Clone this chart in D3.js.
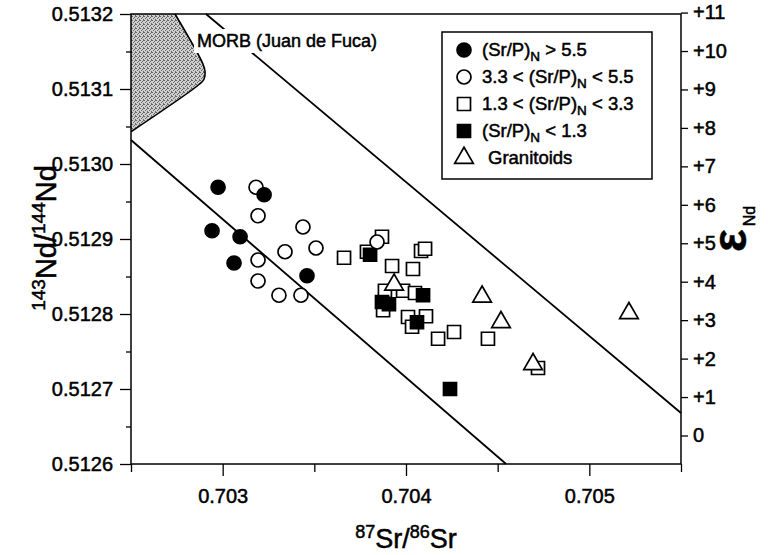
<!DOCTYPE html>
<html><head><meta charset="utf-8">
<script src="https://cdn.jsdelivr.net/npm/d3@7"></script>
<style>
body{margin:0;background:#fff}
svg{display:block}
text{font-family:"Liberation Sans",Arial,Helvetica,sans-serif;fill:#000;stroke:#000;stroke-width:0.5px}
</style>
</head><body>
<svg id="c" width="772" height="555"></svg>
<script>
// ---------- data ----------
const xDomain = [0.7025, 0.7055];
const yDomain = [0.5126, 0.5132];
const xTicks = [0.703, 0.704, 0.705];
const xMinorTicks = [0.7025, 0.7035, 0.7045, 0.7055];
const yTicks = [0.5126, 0.5127, 0.5128, 0.5129, 0.5130, 0.5131, 0.5132];
const yMinorTicks = [0.51265, 0.51275, 0.51285, 0.51295, 0.51305, 0.51315];
const epsTicks = [0, 1, 2, 3, 4, 5, 6, 7, 8, 9, 10, 11];
const CHUR = 0.512638;

// (Sr/P)N > 5.5
const filledCircles = [
  [0.702975, 0.512969], [0.703226, 0.512959], [0.702942, 0.512911],
  [0.703095, 0.512903], [0.703062, 0.512868], [0.703460, 0.512851]
];
// 3.3 < (Sr/P)N < 5.5
const openCircles = [
  [0.703182, 0.512969], [0.703193, 0.512931], [0.703438, 0.512916],
  [0.703340, 0.512883], [0.703509, 0.512888], [0.703193, 0.512872],
  [0.703193, 0.512844], [0.703307, 0.512825], [0.703427, 0.512825],
  [0.703842, 0.512896]
];
// 1.3 < (Sr/P)N < 3.3
const openSquares = [
  [0.703662, 0.512875], [0.703787, 0.512883], [0.703869, 0.512903],
  [0.704082, 0.512884], [0.704104, 0.512887], [0.703924, 0.512864],
  [0.704038, 0.512860], [0.703885, 0.512831], [0.703984, 0.512831],
  [0.704049, 0.512828], [0.703875, 0.512805], [0.704011, 0.512796],
  [0.704109, 0.512797], [0.704033, 0.512783], [0.704175, 0.512767],
  [0.704262, 0.512776], [0.704447, 0.512767], [0.704720, 0.512728]
];
// (Sr/P)N < 1.3
const filledSquares = [
  [0.703804, 0.512879], [0.703869, 0.512816], [0.703907, 0.512813],
  [0.704093, 0.512825], [0.704060, 0.512789], [0.704240, 0.512700]
];
// Granitoids
const granitoids = [
  [0.703935, 0.512839], [0.704415, 0.512823], [0.704518, 0.512789],
  [0.704693, 0.512733], [0.705216, 0.512801]
];
// mantle array bounding lines
const upperLine = [[0.702909, 0.5132], [0.7055, 0.512668]];
const lowerLine = [[0.7025, 0.513032], [0.704546, 0.5126]];
// MORB field (Juan de Fuca)
const morbField = [
  [0.7025, 0.5132], [0.70274, 0.5132], [0.702893, 0.513133], [0.702904, 0.513123],
  [0.702898, 0.513113], [0.702876, 0.513107], [0.7025, 0.513043]
];
const legendItems = [
  {sym: "fc", pre: "(Sr/P)", sub: "N", post: " > 5.5"},
  {sym: "oc", pre: "3.3 < (Sr/P)", sub: "N", post: " < 5.5"},
  {sym: "os", pre: "1.3 < (Sr/P)", sub: "N", post: " < 3.3"},
  {sym: "fs", pre: "(Sr/P)", sub: "N", post: " < 1.3"},
  {sym: "tr", pre: "Granitoids", sub: "", post: ""}
];

// ---------- layout ----------
const L = 131, R = 681, T = 14, B = 464;
const svg = d3.select("#c");
const x = d3.scaleLinear().domain(xDomain).range([L, R]);
const y = d3.scaleLinear().domain(yDomain).range([B, T]);
const toEps = r => (r / CHUR - 1) * 1e4;
const yEps = d3.scaleLinear().domain(yDomain.map(toEps)).range([B, T]);

// pattern for MORB field
const defs = svg.append("defs");
const pat = defs.append("pattern").attr("id", "stip").attr("patternUnits", "userSpaceOnUse")
  .attr("width", 4).attr("height", 4);
pat.append("rect").attr("width", 4).attr("height", 4).attr("fill", "#cfcfcf");
[[0,0],[2,1],[1,2],[3,3],[3,0]].forEach(p => pat.append("rect").attr("x", p[0]).attr("y", p[1])
  .attr("width", 1).attr("height", 1).attr("fill", "#666"));

const line = d3.line().x(d => x(d[0])).y(d => y(d[1]));

svg.append("path")
  .attr("d", line(morbField) + "Z")
  .attr("fill", "url(#stip)").attr("stroke", "none");
svg.append("path")
  .attr("d", d3.line().x(d => x(d[0])).y(d => y(d[1])).curve(d3.curveCatmullRom)(morbField.slice(1, 7)))
  .attr("fill", "none").attr("stroke", "#000").attr("stroke-width", 1.6);

// mantle array lines
[upperLine, lowerLine].forEach(l => svg.append("path")
  .attr("d", line(l))
  .attr("stroke", "#000").attr("stroke-width", 1.8).attr("fill", "none"));

// MORB label with white knock-out
svg.append("rect").attr("x", 194).attr("y", 29).attr("width", 190).attr("height", 24).attr("fill", "#fff");
svg.append("text").attr("x", 197).attr("y", 47).attr("font-size", 18).text("MORB (Juan de Fuca)");

// frame
svg.append("rect").attr("x", L).attr("y", T).attr("width", R - L).attr("height", B - T)
  .attr("fill", "none").attr("stroke", "#000").attr("stroke-width", 1.5);

// axes
function styleAxis(g) {
  g.select(".domain").remove();
  g.selectAll(".tick line").attr("stroke", "#000").attr("stroke-width", 1.3);
  g.selectAll(".tick text").attr("font-family", null).attr("font-size", 20);
}
svg.append("g").attr("transform", `translate(${L},0)`)
  .call(d3.axisLeft(y).tickValues(yTicks).tickFormat(d3.format(".4f")).tickSize(11).tickPadding(7))
  .call(styleAxis);
svg.append("g").attr("transform", `translate(${L},0)`)
  .call(d3.axisLeft(y).tickValues(yMinorTicks).tickFormat("").tickSize(5))
  .call(styleAxis);
svg.append("g").attr("transform", `translate(0,${B})`)
  .call(d3.axisBottom(x).tickValues(xTicks).tickFormat(d3.format(".3f")).tickSize(12).tickPadding(13))
  .call(styleAxis);
svg.append("g").attr("transform", `translate(0,${B})`)
  .call(d3.axisBottom(x).tickValues(xMinorTicks).tickFormat("").tickSize(8))
  .call(styleAxis);
svg.append("g").attr("transform", `translate(${R},0)`)
  .call(d3.axisRight(yEps).tickValues(epsTicks).tickFormat(d => d > 0 ? "+" + d : "0").tickSize(7).tickPadding(5))
  .call(styleAxis);

// axis titles
const yt = svg.append("text").attr("transform", "translate(56,238) rotate(-90)")
  .attr("text-anchor", "middle").attr("font-size", 29);
yt.append("tspan").attr("font-size", 19).attr("dy", -11).text("143");
yt.append("tspan").attr("dy", 11).text("Nd/");
yt.append("tspan").attr("font-size", 19).attr("dy", -11).text("144");
yt.append("tspan").attr("dy", 11).text("Nd");

const xt = svg.append("text").attr("x", (L + R) / 2).attr("y", 548)
  .attr("text-anchor", "middle").attr("font-size", 27);
xt.append("tspan").attr("font-size", 18).attr("dy", -10).text("87");
xt.append("tspan").attr("dy", 10).text("Sr/");
xt.append("tspan").attr("font-size", 18).attr("dy", -10).text("86");
xt.append("tspan").attr("dy", 10).text("Sr");

const et = svg.append("text").attr("transform", "translate(746,252) rotate(-90)")
  .attr("font-size", 48).attr("font-weight", "bold");
et.append("tspan").text("ε");
et.append("tspan").attr("font-size", 16).attr("font-weight", "normal").attr("dx", 3).attr("dy", 9).text("Nd");

// symbols
const sym = {
  fc: {type: d3.symbolCircle, size: 154, fill: "#000"},
  oc: {type: d3.symbolCircle, size: 154, fill: "#fff"},
  os: {type: d3.symbolSquare, size: 169, fill: "#fff"},
  fs: {type: d3.symbolSquare, size: 169, fill: "#000"},
  tr: {type: d3.symbolTriangle, size: 150, fill: "#fff"}
};
function drawSet(data, key) {
  const s = sym[key];
  svg.append("g").selectAll("path").data(data).join("path")
    .attr("transform", d => `translate(${x(d[0])},${y(d[1])})`)
    .attr("d", d3.symbol().type(s.type).size(s.size))
    .attr("fill", s.fill).attr("stroke", "#000").attr("stroke-width", 1.7);
}
drawSet(openSquares, "os");
drawSet(filledSquares, "fs");
drawSet(openCircles, "oc");
drawSet(filledCircles, "fc");
drawSet(granitoids, "tr");

// legend
svg.append("rect").attr("x", 442).attr("y", 32).attr("width", 210).attr("height", 147)
  .attr("fill", "#fff").attr("stroke", "#000").attr("stroke-width", 1.5);
legendItems.forEach((it, i) => {
  const cy = 50 + i * 27;
  const s = sym[it.sym];
  svg.append("path").attr("transform", `translate(464,${cy})`)
    .attr("d", d3.symbol().type(s.type).size(s.size))
    .attr("fill", s.fill).attr("stroke", "#000").attr("stroke-width", 1.7);
  const t = svg.append("text").attr("x", it.sub ? 482 : 488).attr("y", cy + 6).attr("font-size", 18.5);
  t.append("tspan").text(it.pre);
  if (it.sub) {
    t.append("tspan").attr("font-size", 13.5).attr("dy", 5).text(it.sub);
    t.append("tspan").attr("dy", -5).text(it.post);
  }
});
</script>
</body></html>
